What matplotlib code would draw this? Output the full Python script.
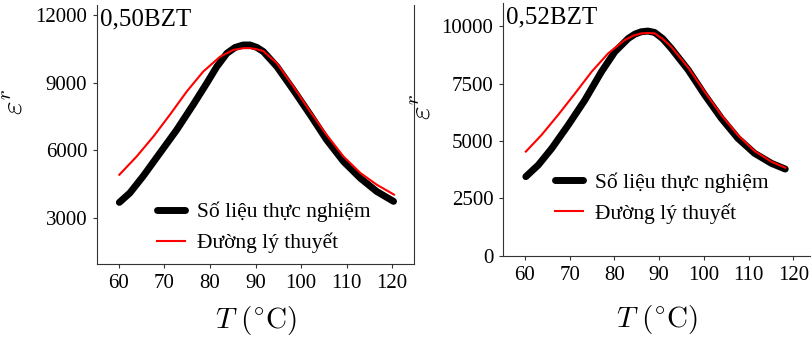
import matplotlib.pyplot as plt

plt.rcParams['font.family'] = ['Liberation Serif', 'DejaVu Serif']
plt.rcParams['mathtext.fontset'] = 'cm'

# 0,50BZT - values
t50_exp = [60.1, 62.4, 65.3, 69.0, 72.7, 76.3, 79.3, 81.5, 83.7, 85.5, 87.3, 88.8, 90.3, 91.7, 94.7, 98.3, 102.0, 105.6, 109.3, 113.0, 116.6, 120.3]
e50_exp = [3695, 4110, 4850, 5880, 6910, 8020, 8980, 9710, 10300, 10560, 10670, 10670, 10560, 10380, 9710, 8680, 7580, 6470, 5510, 4770, 4180, 3740]
t50_th = [60.1, 63.9, 67.6, 71.2, 74.9, 78.5, 82.2, 85.1, 87.3, 88.8, 90.3, 91.7, 94.7, 98.3, 102.0, 105.6, 109.3, 113.0, 116.6, 120.4]
e50_th = [4920, 5730, 6620, 7580, 8610, 9490, 10150, 10450, 10530, 10530, 10480, 10400, 9860, 8830, 7720, 6690, 5730, 5000, 4480, 4040]

# 0,52BZT
t52_exp = [60.2, 63.0, 66.0, 69.7, 73.4, 77.1, 80.1, 83.1, 84.6, 86.0, 87.5, 89.0, 90.8, 92.7, 96.5, 100.2, 103.9, 107.6, 111.3, 115.1, 118.2]
e52_exp = [3450, 3960, 4680, 5700, 6780, 8010, 8880, 9460, 9650, 9750, 9780, 9720, 9450, 9030, 8090, 7000, 5990, 5120, 4470, 4030, 3780]
t52_th = [60.2, 63.7, 67.4, 71.2, 74.9, 78.6, 82.3, 84.2, 86.0, 87.5, 89.0, 90.8, 92.7, 96.5, 100.2, 103.9, 107.6, 111.3, 115.1, 118.2]
e52_th = [4540, 5260, 6130, 7070, 8010, 8810, 9390, 9580, 9680, 9700, 9680, 9440, 9100, 8190, 7140, 6130, 5260, 4570, 4100, 3840]

labels = ['Số liệu thực nghiệm', 'Đường lý thuyết']
xticks = [60, 70, 80, 90, 100, 110, 120]

fig = plt.figure(figsize=(8.12, 3.37), dpi=100)
ax1 = fig.add_axes([0.1195, 0.2166, 0.3904, 0.7684])
ax2 = fig.add_axes([0.6195, 0.2404, 0.3795, 0.7506])

panels = [
    (ax1, t50_exp, e50_exp, t50_th, e50_th, '0,50BZT', [3000, 6000, 9000, 12000], (964, 12440), (55.2, 124.8),
     (0.19, 0.141), (-0.215, 0.625), -0.155),
    (ax2, t52_exp, e52_exp, t52_th, e52_th, '0,52BZT', [0, 2500, 5000, 7500, 10000], (0, 11000), (55.1, 124.0),
     (0.168, 0.229), (-0.215, 0.59), -0.186),
]

for ax, tx, ex, tt, et, name, yt, ylim, xlim, leg_pos, ylab, xlab_y in panels:
    ax.plot(tx, ex, color='black', lw=5, solid_capstyle='round', solid_joinstyle='round', label=labels[0])
    ax.plot(tt, et, color='#ff0000', lw=1.5, solid_joinstyle='round', label=labels[1])
    ax.set_xlim(xlim)
    ax.set_ylim(ylim)
    ax.set_xticks(xticks)
    ax.set_yticks(yt)
    ax.tick_params(labelsize=15, length=3, color='#333333', pad=4)
    for s in ['top', 'right']:
        ax.spines[s].set_visible(False)
    for s in ['left', 'bottom']:
        ax.spines[s].set_color('#333333')
    ax.set_xlabel(r'$T\ (^{\circ}\mathrm{C})$', fontsize=21)
    ax.xaxis.set_label_coords(0.5, xlab_y)
    ax.set_ylabel(r'$\boldsymbol{\varepsilon}^{r}$', fontsize=21)
    ax.yaxis.set_label_coords(ylab[0], ylab[1])
    ax.text(0.01, 0.985, name, transform=ax.transAxes, fontsize=18, va='top', ha='left')
    ax.legend(loc='center left', bbox_to_anchor=leg_pos, frameon=False, fontsize=15.5,
              handlelength=1.3, handletextpad=0.55, labelspacing=0.5, borderpad=0, borderaxespad=0)

# the left panel has a right border line
ax1.spines['right'].set_visible(True)
ax1.spines['right'].set_color('#333333')

fig.savefig('out.png', dpi=100)
